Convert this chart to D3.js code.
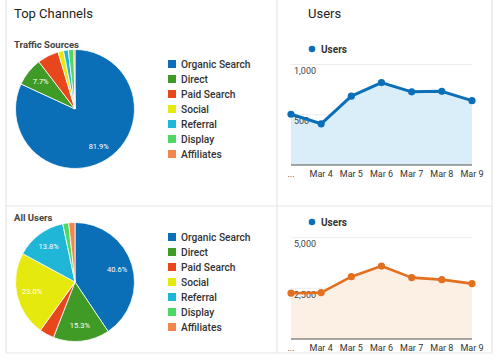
<!DOCTYPE html>
<html><head><meta charset="utf-8">
<script src="https://cdn.jsdelivr.net/npm/d3@7/dist/d3.min.js"></script>
<style>
body{margin:0;background:#fff;}
svg{display:block;font-family:Roboto,"Noto Sans",Arial,sans-serif;}
</style></head><body>
<svg id="c" width="499" height="360"></svg>
<script>
const channels = ["Organic Search","Direct","Paid Search","Social","Referral","Display","Affiliates"];
const colors = ["#0b6fb8","#3f9b26","#e8461c","#e6e90e","#1fb6d8","#4fd666","#f2864c"];
const trafficShare = [81.9,7.7,5.8,1.5,1.3,1.5,0.3];
const allUsersShare = [40.6,15.3,4.0,23.0,13.8,1.6,1.7];
const dates = ["...","Mar 4","Mar 5","Mar 6","Mar 7","Mar 8","Mar 9"];
const usersTop = [505,410,685,820,728,733,640];
const usersBottom = [2260,2290,3075,3600,3030,2930,2735];
const topTicks = [500,1000];
const bottomTicks = [2500,5000];

const svg = d3.select("#c");
const border = "#e6e6e6";
[[6,0,6,353],[277,0,277,353],[492,0,492,353],[6,206,492,206],[6,353,492,353]].forEach(l=>{
  svg.append("line").attr("x1",l[0]).attr("y1",l[1]).attr("x2",l[2]).attr("y2",l[3])
    .attr("stroke",border).attr("stroke-width",1.2);
});

svg.append("text").attr("x",14).attr("y",18).attr("font-size",13).attr("fill","#222").text("Top Channels");
svg.append("text").attr("x",308).attr("y",18).attr("font-size",13).attr("fill","#222").text("Users");

function drawPie(data, cx, cy, r, title, titleY, legendY){
  svg.append("text").attr("x",14).attr("y",titleY).attr("font-size",9.5).attr("font-weight","bold").attr("fill","#444").text(title);
  const pie = d3.pie().sort(null).value(d=>d.v);
  const arcs = pie(data.map((v,i)=>({v,i})));
  const arc = d3.arc().innerRadius(0).outerRadius(r);
  const lab = d3.arc().innerRadius(r*0.74).outerRadius(r*0.74);
  const g = svg.append("g").attr("transform",`translate(${cx},${cy})`);
  g.selectAll("path").data(arcs).join("path").attr("d",arc)
    .attr("fill",d=>colors[d.data.i]).attr("stroke","#fff").attr("stroke-width",0.8);
  g.selectAll("text").data(arcs.filter(d=>d.data.v>7)).join("text")
    .attr("transform",d=>`translate(${lab.centroid(d)})`)
    .attr("text-anchor","middle").attr("dy","0.35em").attr("font-size",7.5).attr("fill","#fff")
    .text(d=>d.data.v.toFixed(1)+"%");
  const lg = svg.append("g");
  channels.forEach((c,i)=>{
    const y = legendY + i*15;
    lg.append("rect").attr("x",168).attr("y",y-4).attr("width",8).attr("height",8).attr("fill",colors[i]);
    lg.append("text").attr("x",181).attr("y",y).attr("dy","0.35em").attr("font-size",10.2).attr("font-weight",500).attr("fill","#333").text(c);
  });
}
drawPie(trafficShare,75,109,59.5,"Traffic Sources",48,64);
drawPie(allUsersShare,75,282,59.5,"All Users",221,237);

function drawLine(vals, ticks, y0, y1, maxV, lineC, areaC, legendY, labelY, sw){
  const x = d3.scalePoint().domain(dates).range([291,472]);
  const y = d3.scaleLinear().domain([0,maxV]).range([y0,y1]);
  const g = svg.append("g");
  g.append("circle").attr("cx",312).attr("cy",legendY).attr("r",3.3).attr("fill","#0b6fb8");
  g.append("text").attr("x",321).attr("y",legendY).attr("dy","0.35em").attr("font-size",10).attr("font-weight","bold").attr("fill","#333").text("Users");
  ticks.forEach(t=>{
    g.append("line").attr("x1",291).attr("x2",472).attr("y1",y(t)).attr("y2",y(t)).attr("stroke","#ececec");
  });
  const data = vals.map((v,i)=>({d:dates[i],v}));
  g.append("path").datum(data).attr("fill",areaC)
    .attr("d",d3.area().x(d=>x(d.d)).y0(y(0)).y1(d=>y(d.v)));
  ticks.forEach(t=>{
    g.append("text").attr("x",294).attr("y",y(t)+9.5).attr("font-size",9).attr("fill","#444").text(d3.format(",")(t));
  });
  g.append("line").attr("x1",291).attr("x2",472).attr("y1",y(0)).attr("y2",y(0)).attr("stroke","#555").attr("stroke-width",1.2);
  g.append("path").datum(data).attr("fill","none").attr("stroke",lineC).attr("stroke-width",sw)
    .attr("stroke-linejoin","round").attr("d",d3.line().x(d=>x(d.d)).y(d=>y(d.v)));
  g.selectAll("circle.p").data(data).join("circle").attr("class","p")
    .attr("cx",d=>x(d.d)).attr("cy",d=>y(d.v)).attr("r",3.6).attr("fill",lineC);
  g.selectAll("text.x").data(dates).join("text").attr("class","x")
    .attr("x",d=>x(d)).attr("y",labelY).attr("text-anchor","middle").attr("font-size",9).attr("fill","#333").text(d=>d);
}
drawLine(usersTop, topTicks, 165, 64.5, 1000, "#0b6fb8", "#daeef9", 49, 177, 3);
drawLine(usersBottom, bottomTicks, 339, 237.7, 5000, "#e2701f", "#fcefe3", 222, 350.5, 2.6);
</script>
</body></html>
